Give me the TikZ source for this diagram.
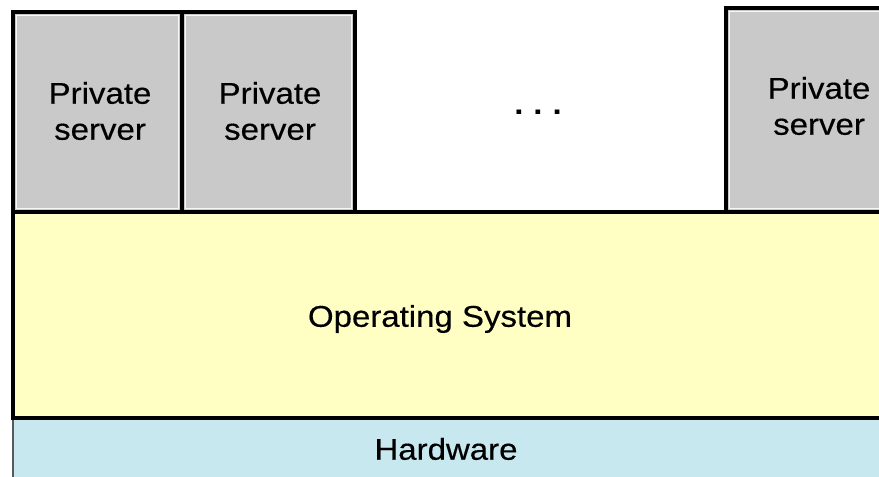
\documentclass[tikz,border=0pt]{standalone}
\usepackage{fontspec}
\newfontfamily\lab{Liberation Sans}[FakeStretch=1.1,FakeBold=0.4]
\newfontfamily\dotfont{Liberation Sans Bold}[FakeStretch=1.1]
\definecolor{srvgray}{RGB}{201,201,201}
\definecolor{osyellow}{RGB}{255,255,196}
\definecolor{hwblue}{RGB}{200,232,240}
\begin{document}
\begin{tikzpicture}[x=1pt,y=-1pt,
  every node/.style={inner sep=0pt,outer sep=0pt},
  txt/.style={font=\lab\fontsize{30}{36}\selectfont,align=center,text=black},
  srv/.style={rectangle,draw=black,line width=4pt,fill=srvgray,anchor=north west},
  inner/.style={draw=white!85!srvgray,line width=1.2pt},
  osbox/.style={rectangle,draw=black,line width=4.5pt,fill=osyellow,anchor=north west},
  hwbox/.style={rectangle,fill=hwblue,anchor=north west}]
\useasboundingbox (0,0) rectangle (879,477);
\fill[white] (0,0) rectangle (879,477);
\clip (0,0) rectangle (879,477);
% hardware
\node[hwbox,minimum width=900pt,minimum height=70pt] (hw) at (13,419) {};
\draw[black!65,line width=2.2pt] (hw.north west) -- (hw.south west);
\node[txt] (hwl) at (446,449) {Hardware};
% operating system
\node[osbox,minimum width=900pt,minimum height=206pt] (os) at (13,212) {};
\node[txt] (osl) at (440,319) {Operating System};
% private servers
\node[srv,minimum width=169pt,minimum height=200pt] (s1) at (13,12) {};
\node[srv,minimum width=173pt,minimum height=200pt] (s2) at (182,12) {};
\node[srv,minimum width=190pt,minimum height=204pt] (s3) at (726,8) {};
\foreach \s in {s1,s2,s3}{
  \draw[inner] ([shift={(3.5,3.5)}]\s.north west) rectangle ([shift={(-3.5,-3.5)}]\s.south east);
}
\node[txt] (t1) at (100,111) {Private\\server};
\node[txt] (t2) at (270,111) {Private\\server};
\node[txt] (t3) at (819,106) {Private\\server};
\node[font=\dotfont\fontsize{30}{36}\selectfont] (dots) at (538,112) {.\,\,.\,\,.};
\end{tikzpicture}
\end{document}
